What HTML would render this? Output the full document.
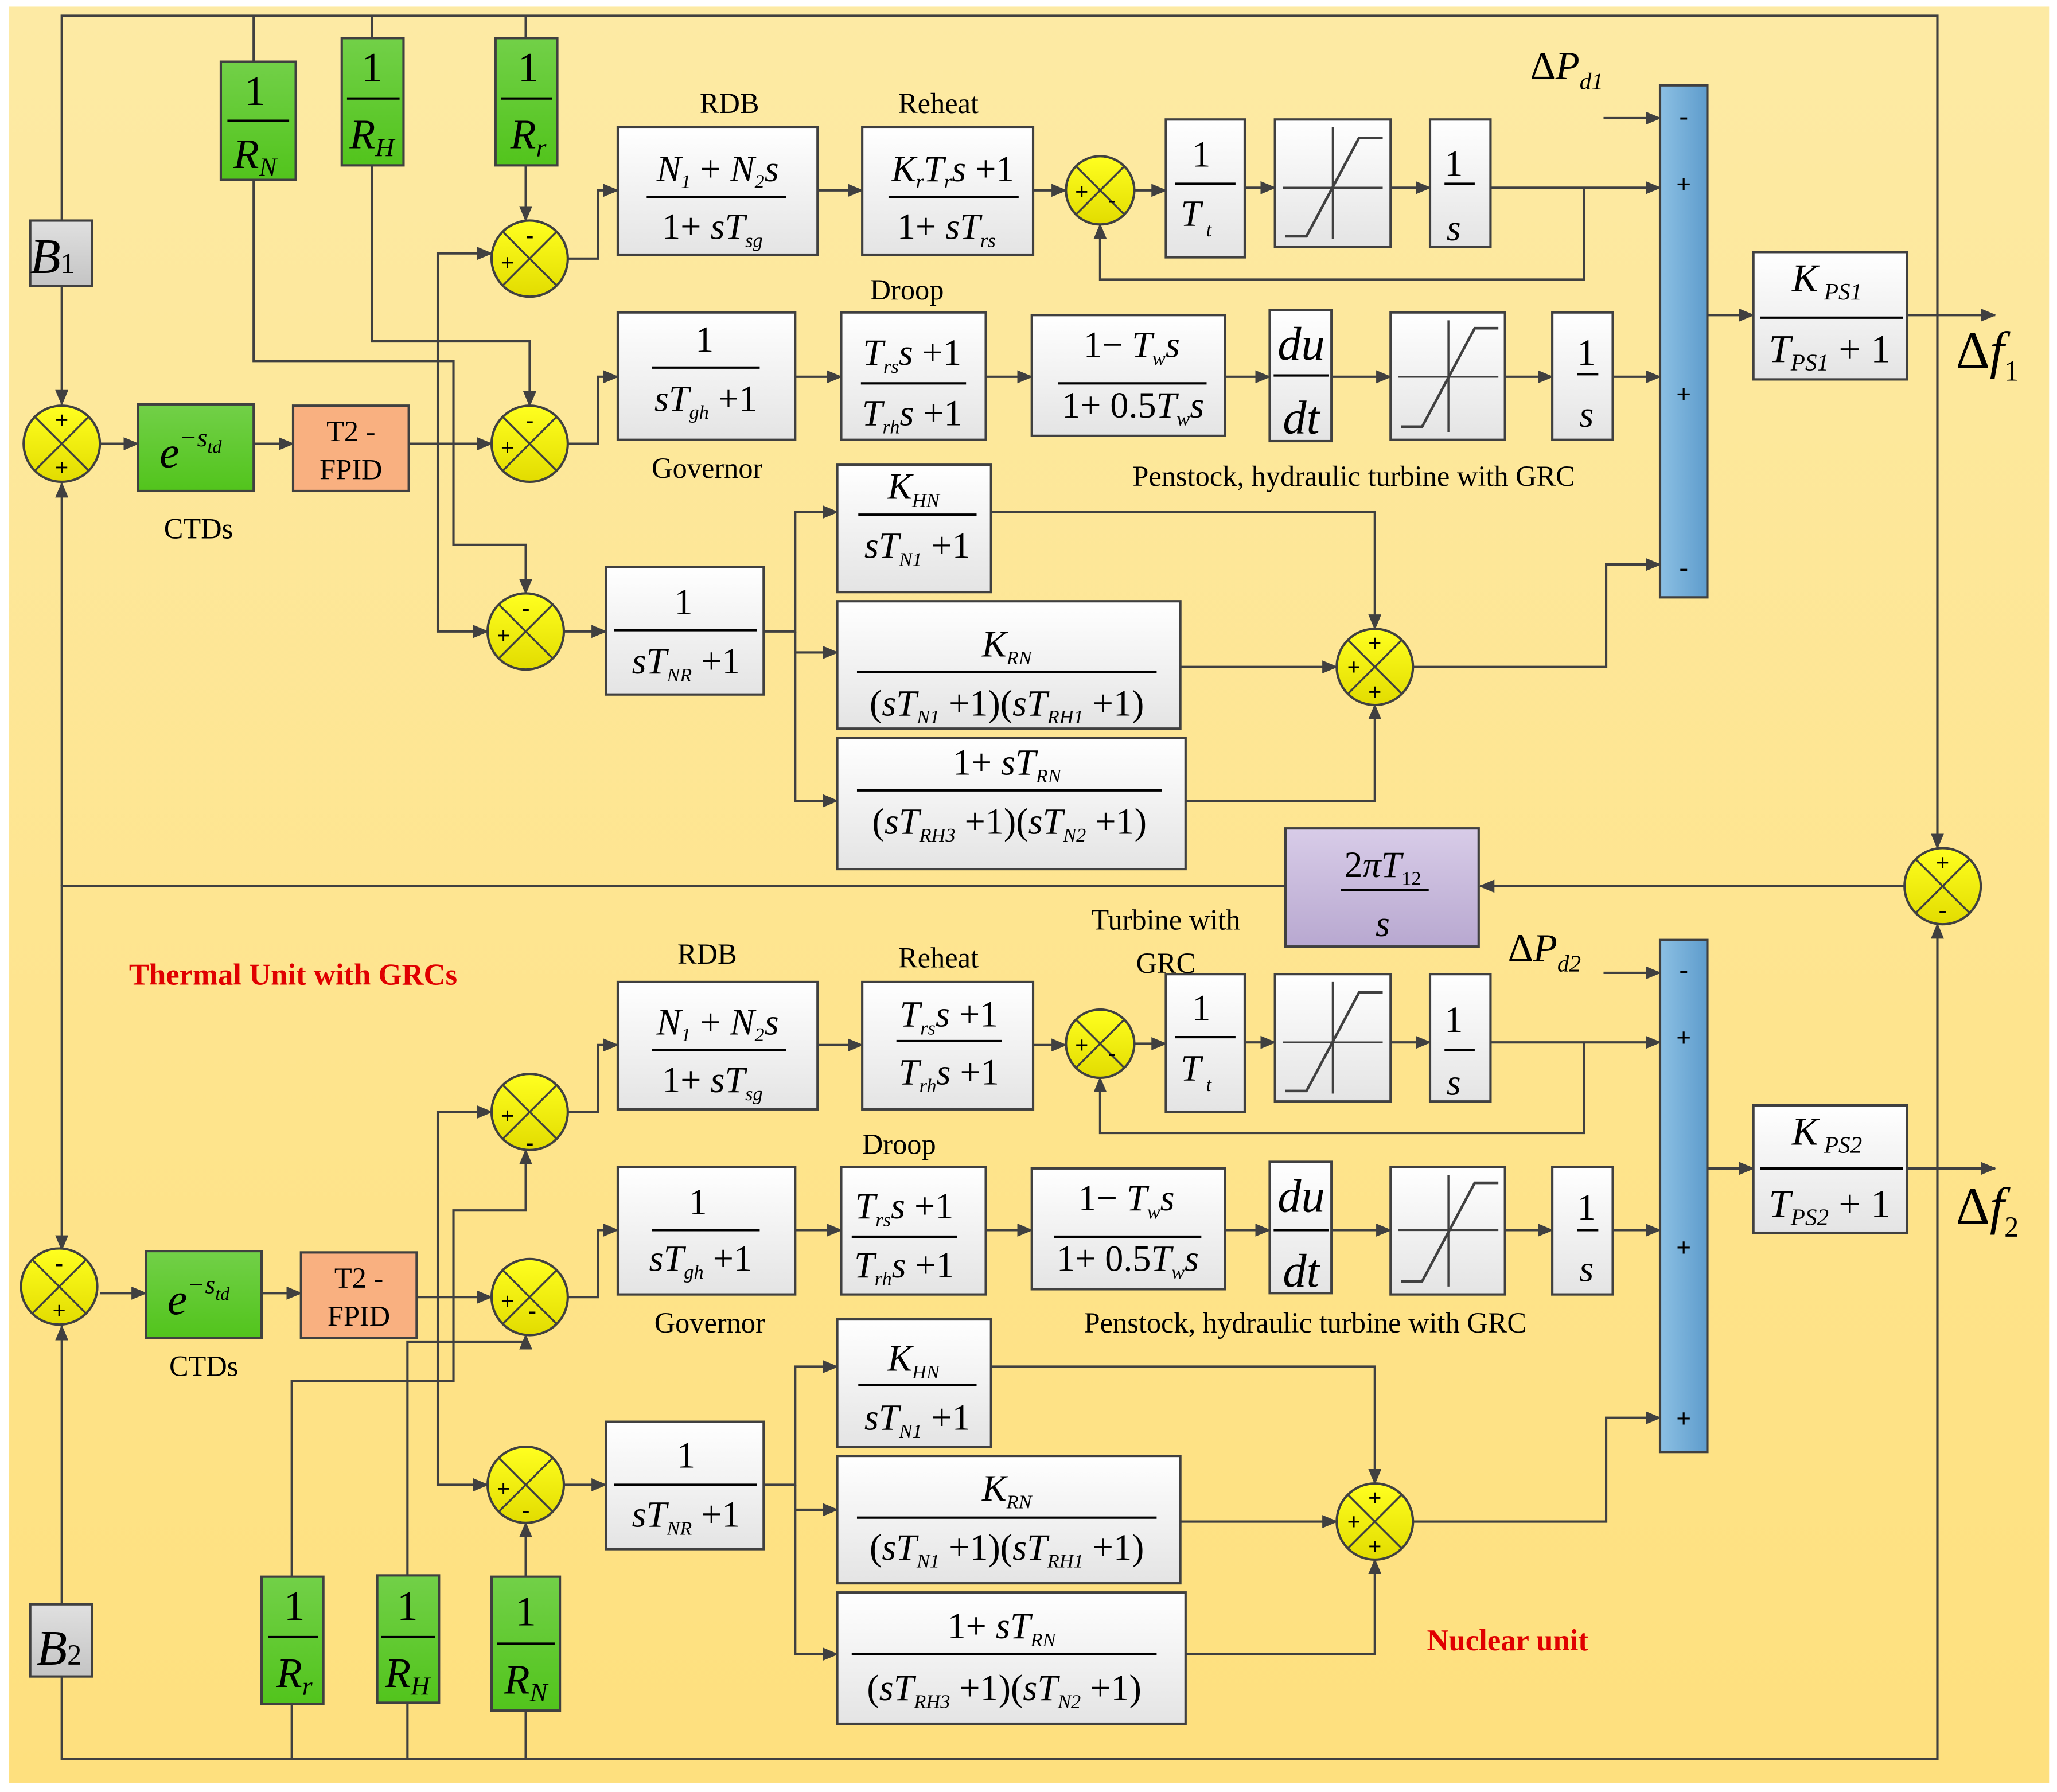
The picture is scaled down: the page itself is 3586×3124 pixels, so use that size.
<!DOCTYPE html>
<html><head><meta charset="utf-8"><style>
html,body{margin:0;padding:0;background:#fff}
svg{display:block}
text{font-family:"Liberation Serif",serif;fill:#000}
.f{font-style:italic;font-size:28px;text-anchor:middle}
.l{font-size:22px;text-anchor:middle}
.sg{font-family:"Liberation Sans",sans-serif;font-size:18px;text-anchor:middle;font-weight:bold}
.red{fill:#e00000;font-weight:bold;font-size:23px;text-anchor:middle}
</style></head><body>
<svg width="3586" height="3124" viewBox="0 0 1565 1365" preserveAspectRatio="none" xmlns="http://www.w3.org/2000/svg">
<defs>
<marker id="a" markerWidth="12" markerHeight="10" refX="11" refY="5" orient="auto" markerUnits="userSpaceOnUse"><path d="M0,0 L12,5 L0,10 z" fill="#404040"/></marker>
<linearGradient id="bg" x1="0" y1="0" x2="0" y2="1"><stop offset="0" stop-color="#fdeaa4"/><stop offset="1" stop-color="#fee07e"/></linearGradient>
<linearGradient id="gw" x1="0" y1="0" x2="0" y2="1"><stop offset="0" stop-color="#ffffff"/><stop offset="1" stop-color="#e4e4e4"/></linearGradient>
<linearGradient id="gg" x1="0" y1="0" x2="0" y2="1"><stop offset="0" stop-color="#72d048"/><stop offset="1" stop-color="#52c41c"/></linearGradient>
<linearGradient id="gb" x1="0" y1="0" x2="0" y2="1"><stop offset="0" stop-color="#e0e0e0"/><stop offset="1" stop-color="#c4c4c4"/></linearGradient>
<linearGradient id="gy" x1="0" y1="0" x2="0" y2="1"><stop offset="0" stop-color="#ffff20"/><stop offset="1" stop-color="#e2dc00"/></linearGradient>
<linearGradient id="gbl" x1="0" y1="0" x2="1" y2="0"><stop offset="0" stop-color="#8cc0e4"/><stop offset="1" stop-color="#5e9ccc"/></linearGradient>
<linearGradient id="gp" x1="0" y1="0" x2="0" y2="1"><stop offset="0" stop-color="#d8cce8"/><stop offset="1" stop-color="#b8a8d0"/></linearGradient>
</defs>
<rect x="7" y="5" width="1552" height="1353" fill="url(#bg)"/>
<g stroke="#404040" stroke-width="1.8" fill="none">
<path d="M47,168 V12 H1474 V646" marker-end="url(#a)"/>
<path d="M47,1277 V1340 H1474 V704" marker-end="url(#a)"/>
<path d="M47,218 V308" marker-end="url(#a)"/>
<path d="M193,12 V47 M283,12 V29 M400,12 V29"/>
<path d="M1449,675 H1126" marker-end="url(#a)"/>
<path d="M978,675 H47 V952" marker-end="url(#a)"/>
<path d="M47,675 V368" marker-end="url(#a)"/>
<path d="M47,1222 V1010" marker-end="url(#a)"/>
<path d="M76,338 H105" marker-end="url(#a)"/>
<path d="M193,338 H223" marker-end="url(#a)"/>
<path d="M311,338 H374" marker-end="url(#a)"/>
<path d="M333,338 V193 H374" marker-end="url(#a)"/>
<path d="M333,338 V481 H371" marker-end="url(#a)"/>
<path d="M193,137 V275 H345 V415 H400 V452" marker-end="url(#a)"/>
<path d="M283,126 V260 H403 V309" marker-end="url(#a)"/>
<path d="M400,126 V168" marker-end="url(#a)"/>
<path d="M432,197 H455 V145 H470" marker-end="url(#a)"/>
<path d="M622,145 H656" marker-end="url(#a)"/>
<path d="M786,145 H811" marker-end="url(#a)"/>
<path d="M863,145 H887" marker-end="url(#a)"/>
<path d="M947,143 H970" marker-end="url(#a)"/>
<path d="M1058,143 H1088" marker-end="url(#a)"/>
<path d="M1134,143 H1263" marker-end="url(#a)"/>
<path d="M1205,143 V213 H837 V171" marker-end="url(#a)"/>
<path d="M1220,90 H1263" marker-end="url(#a)"/>
<path d="M432,338 H455 V287 H470" marker-end="url(#a)"/>
<path d="M605,287 H640" marker-end="url(#a)"/>
<path d="M750,287 H785" marker-end="url(#a)"/>
<path d="M932,287 H966" marker-end="url(#a)"/>
<path d="M1013,287 H1058" marker-end="url(#a)"/>
<path d="M1145,287 H1181" marker-end="url(#a)"/>
<path d="M1227,287 H1263" marker-end="url(#a)"/>
<path d="M429,481 H461" marker-end="url(#a)"/>
<path d="M581,481 H605 V390 H637" marker-end="url(#a)"/>
<path d="M605,481 V497 H637" marker-end="url(#a)"/>
<path d="M605,497 V610 H637" marker-end="url(#a)"/>
<path d="M754,390 H1046 V479" marker-end="url(#a)"/>
<path d="M898,508 H1017" marker-end="url(#a)"/>
<path d="M902,610 H1046 V537" marker-end="url(#a)"/>
<path d="M1075,508 H1222 V430 H1263" marker-end="url(#a)"/>
<path d="M1299,240 H1334" marker-end="url(#a)"/>
<path d="M1451,240 H1518" marker-end="url(#a)"/>
<path d="M76,985 H111" marker-end="url(#a)"/>
<path d="M199,985 H229" marker-end="url(#a)"/>
<path d="M317,988 H374" marker-end="url(#a)"/>
<path d="M333,988 V847 H374" marker-end="url(#a)"/>
<path d="M333,988 V1131 H371" marker-end="url(#a)"/>
<path d="M222,1340 V1298 M310,1340 V1297 M400,1340 V1303"/>
<path d="M222,1201 V1052 H345 V922 H400 V876" marker-end="url(#a)"/>
<path d="M310,1200 V1022 H400 V1017" marker-end="url(#a)"/>
<path d="M400,1201 V1160" marker-end="url(#a)"/>
<path d="M432,847 H455 V796 H470" marker-end="url(#a)"/>
<path d="M622,796 H656" marker-end="url(#a)"/>
<path d="M786,796 H811" marker-end="url(#a)"/>
<path d="M863,795 H887" marker-end="url(#a)"/>
<path d="M947,794 H970" marker-end="url(#a)"/>
<path d="M1058,794 H1088" marker-end="url(#a)"/>
<path d="M1134,794 H1263" marker-end="url(#a)"/>
<path d="M1205,794 V863 H837 V821" marker-end="url(#a)"/>
<path d="M1220,741 H1263" marker-end="url(#a)"/>
<path d="M432,988 H455 V937 H470" marker-end="url(#a)"/>
<path d="M605,937 H640" marker-end="url(#a)"/>
<path d="M750,937 H785" marker-end="url(#a)"/>
<path d="M932,937 H966" marker-end="url(#a)"/>
<path d="M1013,937 H1058" marker-end="url(#a)"/>
<path d="M1145,937 H1181" marker-end="url(#a)"/>
<path d="M1227,937 H1263" marker-end="url(#a)"/>
<path d="M429,1131 H461" marker-end="url(#a)"/>
<path d="M581,1131 H605 V1041 H637" marker-end="url(#a)"/>
<path d="M605,1131 V1150 H637" marker-end="url(#a)"/>
<path d="M605,1150 V1260 H637" marker-end="url(#a)"/>
<path d="M754,1041 H1046 V1130" marker-end="url(#a)"/>
<path d="M898,1159 H1017" marker-end="url(#a)"/>
<path d="M902,1260 H1046 V1188" marker-end="url(#a)"/>
<path d="M1075,1159 H1222 V1080 H1263" marker-end="url(#a)"/>
<path d="M1299,890 H1334" marker-end="url(#a)"/>
<path d="M1451,890 H1518" marker-end="url(#a)"/>
</g>

<g stroke="#404040" stroke-width="1.8">
<rect x="23" y="168" width="47" height="50" fill="url(#gb)"/>
<rect x="23" y="1222" width="47" height="55" fill="url(#gb)"/>
<rect x="168" y="47" width="57" height="90" fill="url(#gg)"/>
<rect x="260" y="29" width="47" height="97" fill="url(#gg)"/>
<rect x="377" y="29" width="47" height="97" fill="url(#gg)"/>
<rect x="199" y="1201" width="47" height="97" fill="url(#gg)"/>
<rect x="287" y="1200" width="47" height="97" fill="url(#gg)"/>
<rect x="374" y="1201" width="52" height="102" fill="url(#gg)"/>
<rect x="105" y="308" width="88" height="66" fill="url(#gg)"/>
<rect x="111" y="953" width="88" height="66" fill="url(#gg)"/>
<rect x="223" y="309" width="88" height="65" fill="#f9b080"/>
<rect x="229" y="954" width="88" height="65" fill="#f9b080"/>
<rect x="1263" y="65" width="36" height="390" fill="url(#gbl)"/>
<rect x="1263" y="716" width="36" height="390" fill="url(#gbl)"/>
<rect x="978" y="631" width="147" height="90" fill="url(#gp)"/>
<g fill="url(#gw)">
<rect x="470" y="97" width="152" height="97"/><rect x="656" y="97" width="130" height="97"/>
<rect x="887" y="91" width="60" height="105"/><rect x="970" y="91" width="88" height="97"/><rect x="1088" y="91" width="46" height="97"/>
<rect x="470" y="238" width="135" height="97"/><rect x="640" y="238" width="110" height="97"/><rect x="785" y="240" width="147" height="92"/>
<rect x="966" y="236" width="47" height="100"/><rect x="1058" y="238" width="87" height="97"/><rect x="1181" y="238" width="46" height="97"/>
<rect x="461" y="432" width="120" height="97"/><rect x="637" y="354" width="117" height="97"/><rect x="637" y="458" width="261" height="97"/><rect x="637" y="562" width="265" height="100"/>
<rect x="1334" y="192" width="117" height="97"/>
<rect x="470" y="748" width="152" height="97"/><rect x="656" y="748" width="130" height="97"/>
<rect x="887" y="742" width="60" height="105"/><rect x="970" y="742" width="88" height="97"/><rect x="1088" y="742" width="46" height="97"/>
<rect x="470" y="889" width="135" height="97"/><rect x="640" y="889" width="110" height="97"/><rect x="785" y="890" width="147" height="92"/>
<rect x="966" y="885" width="47" height="100"/><rect x="1058" y="889" width="87" height="97"/><rect x="1181" y="889" width="46" height="97"/>
<rect x="461" y="1083" width="120" height="97"/><rect x="637" y="1005" width="117" height="97"/><rect x="637" y="1109" width="261" height="97"/><rect x="637" y="1213" width="265" height="100"/>
<rect x="1334" y="842" width="117" height="97"/>
</g>
</g>

<g stroke="#404040" stroke-width="1.5" fill="none">
<path d="M976,143 H1052 M1014,97 V182"/><path d="M978,180 H994 L1034,105 H1052" stroke-width="2"/>
<path d="M1064,287 H1140 M1102,244 V329"/><path d="M1066,325 H1082 L1122,250 H1140" stroke-width="2"/>
<path d="M976,794 H1052 M1014,748 V833"/><path d="M978,831 H994 L1034,756 H1052" stroke-width="2"/>
<path d="M1064,937 H1140 M1102,895 V980"/><path d="M1066,976 H1082 L1122,901 H1140" stroke-width="2"/>
</g>

<g stroke="#404040" stroke-width="1.8" fill="url(#gy)">
<circle cx="47" cy="338" r="29"/><circle cx="403" cy="197" r="29"/><circle cx="403" cy="338" r="29"/><circle cx="400" cy="481" r="29"/>
<circle cx="837" cy="145" r="26"/><circle cx="1046" cy="508" r="29"/><circle cx="1478" cy="675" r="29"/>
<circle cx="45" cy="980" r="29"/><circle cx="403" cy="847" r="29"/><circle cx="403" cy="988" r="29"/><circle cx="400" cy="1131" r="29"/>
<circle cx="837" cy="795" r="26"/><circle cx="1046" cy="1159" r="29"/>
</g>
<g stroke="#404040" stroke-width="1.5">
<path d="M26.5,317.5 L67.5,358.5 M67.5,317.5 L26.5,358.5"/>
<path d="M382.5,176.5 L423.5,217.5 M423.5,176.5 L382.5,217.5"/>
<path d="M382.5,317.5 L423.5,358.5 M423.5,317.5 L382.5,358.5"/>
<path d="M379.5,460.5 L420.5,501.5 M420.5,460.5 L379.5,501.5"/>
<path d="M818.6,126.6 L855.4,163.4 M855.4,126.6 L818.6,163.4"/>
<path d="M1025.5,487.5 L1066.5,528.5 M1066.5,487.5 L1025.5,528.5"/>
<path d="M1457.5,654.5 L1498.5,695.5 M1498.5,654.5 L1457.5,695.5"/>
<path d="M24.5,959.5 L65.5,1000.5 M65.5,959.5 L24.5,1000.5"/>
<path d="M382.5,826.5 L423.5,867.5 M423.5,826.5 L382.5,867.5"/>
<path d="M382.5,967.5 L423.5,1008.5 M423.5,967.5 L382.5,1008.5"/>
<path d="M379.5,1110.5 L420.5,1151.5 M420.5,1110.5 L379.5,1151.5"/>
<path d="M818.6,776.6 L855.4,813.4 M855.4,776.6 L818.6,813.4"/>
<path d="M1025.5,1138.5 L1066.5,1179.5 M1066.5,1138.5 L1025.5,1179.5"/>
</g>
<g class="sg">
<text x="47" y="326">+</text><text x="47" y="362">+</text>
<text x="403" y="185">-</text><text x="386" y="206">+</text>
<text x="403" y="326">-</text><text x="386" y="347">+</text>
<text x="400" y="469">-</text><text x="383" y="490">+</text>
<text x="823" y="152">+</text><text x="846" y="158">-</text>
<text x="1046" y="496">+</text><text x="1030" y="514">+</text><text x="1046" y="533">+</text>
<text x="1478" y="663">+</text><text x="1478" y="699">-</text>
<text x="45" y="968">-</text><text x="45" y="1004">+</text>
<text x="386" y="856">+</text><text x="403" y="876">-</text>
<text x="386" y="997">+</text><text x="405" y="1004">-</text>
<text x="383" y="1140">+</text><text x="400" y="1156">-</text>
<text x="823" y="802">+</text><text x="846" y="808">-</text>
<text x="1046" y="1147">+</text><text x="1030" y="1165">+</text><text x="1046" y="1184">+</text>
</g>
<g class="sg" style="font-size:20px">
<text x="1281" y="95">-</text><text x="1281" y="147">+</text><text x="1281" y="307">+</text><text x="1281" y="439">-</text>
<text x="1281" y="745">-</text><text x="1281" y="797">+</text><text x="1281" y="957">+</text><text x="1281" y="1087">+</text>
</g>

<g stroke="#000" stroke-width="1.8">
<path d="M173,92 H220 M264,75 H304 M381,75 H420 M204,1247 H242 M290,1247 H331 M378,1252 H422"/>
<path d="M492,150 H598 M676,150 H775 M894,140 H940 M1099,140 H1122 M496,280 H578 M655,292 H735 M805,292 H918 M969,286 H1011 M1200,285 H1216 M467,480 H576 M653,392 H743 M652,512 H880 M652,602 H884 M1339,242 H1448 M1020,678 H1087"/>
<path d="M496,800 H598 M682,793 H762 M894,790 H940 M1099,800 H1122 M496,937 H578 M648,942 H728 M802,942 H914 M969,937 H1011 M1200,937 H1216 M467,1131 H576 M653,1055 H743 M652,1156 H880 M648,1260 H880 M1339,890 H1448"/>
</g>

<g class="f">
<text x="40" y="208" style="font-size:38px">B<tspan font-size="22" font-style="normal">1</tspan></text>
<text x="45" y="1268" style="font-size:38px">B<tspan font-size="22" font-style="normal">2</tspan></text>
<text x="194" y="80" font-style="normal" font-size="32">1</text><text x="194" y="128" font-size="32">R<tspan font-size="20" dy="6">N</tspan></text>
<text x="283" y="62" font-style="normal" font-size="32">1</text><text x="283" y="113" font-size="32">R<tspan font-size="20" dy="6">H</tspan></text>
<text x="402" y="62" font-style="normal" font-size="32">1</text><text x="402" y="113" font-size="32">R<tspan font-size="20" dy="6">r</tspan></text>
<text x="224" y="1234" font-style="normal" font-size="32">1</text><text x="224" y="1285" font-size="32">R<tspan font-size="20" dy="6">r</tspan></text>
<text x="310" y="1234" font-style="normal" font-size="32">1</text><text x="310" y="1285" font-size="32">R<tspan font-size="20" dy="6">H</tspan></text>
<text x="400" y="1238" font-style="normal" font-size="32">1</text><text x="400" y="1290" font-size="32">R<tspan font-size="20" dy="6">N</tspan></text>
<text x="145" y="356" font-size="34">e<tspan font-size="20" dy="-16">−s</tspan><tspan font-size="14" dy="5">td</tspan></text>
<text x="151" y="1001" font-size="34">e<tspan font-size="20" dy="-16">−s</tspan><tspan font-size="14" dy="5">td</tspan></text>

<text x="546" y="138">N<tspan font-size="15" dy="5">1</tspan><tspan dy="-5" font-style="normal"> + </tspan>N<tspan font-size="15" dy="5">2</tspan><tspan dy="-5">s</tspan></text>
<text x="542" y="182"><tspan font-style="normal">1+ </tspan>sT<tspan font-size="15" dy="6">sg</tspan></text>
<text x="725" y="138">K<tspan font-size="15" dy="5">r</tspan><tspan dy="-5">T</tspan><tspan font-size="15" dy="5">r</tspan><tspan dy="-5">s</tspan><tspan font-style="normal"> +1</tspan></text>
<text x="720" y="182"><tspan font-style="normal">1+ </tspan>sT<tspan font-size="15" dy="6">rs</tspan></text>
<text x="914" y="127" font-style="normal">1</text><text x="910" y="172">T<tspan font-size="15" dy="8"> t</tspan></text>
<text x="1106" y="134" font-style="normal">1</text><text x="1106" y="183">s</text>
<text x="536" y="268" font-style="normal">1</text><text x="537" y="313">sT<tspan font-size="15" dy="6">gh</tspan><tspan dy="-6" font-style="normal"> +1</tspan></text>
<text x="694" y="278">T<tspan font-size="15" dy="6">rs</tspan><tspan dy="-6">s</tspan><tspan font-style="normal"> +1</tspan></text>
<text x="694" y="324">T<tspan font-size="15" dy="6">rh</tspan><tspan dy="-6">s</tspan><tspan font-style="normal"> +1</tspan></text>
<text x="861" y="272"><tspan font-style="normal">1− </tspan>T<tspan font-size="15" dy="6">w</tspan><tspan dy="-6">s</tspan></text>
<text x="862" y="318"><tspan font-style="normal">1+ 0.5</tspan>T<tspan font-size="15" dy="6">w</tspan><tspan dy="-6">s</tspan></text>
<text x="990" y="274" font-size="36">du</text><text x="990" y="330" font-size="36">dt</text>
<text x="1207" y="278" font-style="normal">1</text><text x="1207" y="325">s</text>
<text x="520" y="468" font-style="normal">1</text><text x="522" y="513">sT<tspan font-size="15" dy="6">NR</tspan><tspan dy="-6" font-style="normal"> +1</tspan></text>
<text x="695" y="380">K<tspan font-size="15" dy="6">HN</tspan></text><text x="698" y="425">sT<tspan font-size="15" dy="6">N1</tspan><tspan dy="-6" font-style="normal"> +1</tspan></text>
<text x="766" y="500">K<tspan font-size="15" dy="6">RN</tspan></text>
<text x="766" y="545"><tspan font-style="normal">(</tspan>sT<tspan font-size="15" dy="6">N1</tspan><tspan dy="-6" font-style="normal"> +1)(</tspan>sT<tspan font-size="15" dy="6">RH1</tspan><tspan dy="-6" font-style="normal"> +1)</tspan></text>
<text x="766" y="590"><tspan font-style="normal">1+ </tspan>sT<tspan font-size="15" dy="6">RN</tspan></text>
<text x="768" y="635"><tspan font-style="normal">(</tspan>sT<tspan font-size="15" dy="6">RH3</tspan><tspan dy="-6" font-style="normal"> +1)(</tspan>sT<tspan font-size="15" dy="6">N2</tspan><tspan dy="-6" font-style="normal"> +1)</tspan></text>
<text x="1390" y="222" font-size="30">K<tspan font-size="18" dy="6"> PS1</tspan></text>
<text x="1392" y="276" font-size="30">T<tspan font-size="18" dy="6">PS1</tspan><tspan dy="-6" font-style="normal"> + 1</tspan></text>
<text x="1052" y="668"><tspan font-style="normal">2</tspan>πT<tspan font-size="15" dy="6" font-style="normal">12</tspan></text><text x="1052" y="713">s</text>

<text x="546" y="788">N<tspan font-size="15" dy="5">1</tspan><tspan dy="-5" font-style="normal"> + </tspan>N<tspan font-size="15" dy="5">2</tspan><tspan dy="-5">s</tspan></text>
<text x="542" y="832"><tspan font-style="normal">1+ </tspan>sT<tspan font-size="15" dy="6">sg</tspan></text>
<text x="722" y="782">T<tspan font-size="15" dy="6">rs</tspan><tspan dy="-6">s</tspan><tspan font-style="normal"> +1</tspan></text>
<text x="722" y="826">T<tspan font-size="15" dy="6">rh</tspan><tspan dy="-6">s</tspan><tspan font-style="normal"> +1</tspan></text>
<text x="914" y="777" font-style="normal">1</text><text x="910" y="823">T<tspan font-size="15" dy="8"> t</tspan></text>
<text x="1106" y="786" font-style="normal">1</text><text x="1106" y="834">s</text>
<text x="531" y="925" font-style="normal">1</text><text x="533" y="968">sT<tspan font-size="15" dy="6">gh</tspan><tspan dy="-6" font-style="normal"> +1</tspan></text>
<text x="688" y="928">T<tspan font-size="15" dy="6">rs</tspan><tspan dy="-6">s</tspan><tspan font-style="normal"> +1</tspan></text>
<text x="688" y="973">T<tspan font-size="15" dy="6">rh</tspan><tspan dy="-6">s</tspan><tspan font-style="normal"> +1</tspan></text>
<text x="857" y="922"><tspan font-style="normal">1− </tspan>T<tspan font-size="15" dy="6">w</tspan><tspan dy="-6">s</tspan></text>
<text x="858" y="968"><tspan font-style="normal">1+ 0.5</tspan>T<tspan font-size="15" dy="6">w</tspan><tspan dy="-6">s</tspan></text>
<text x="990" y="923" font-size="36">du</text><text x="990" y="980" font-size="36">dt</text>
<text x="1207" y="929" font-style="normal">1</text><text x="1207" y="976">s</text>
<text x="522" y="1118" font-style="normal">1</text><text x="522" y="1163">sT<tspan font-size="15" dy="6">NR</tspan><tspan dy="-6" font-style="normal"> +1</tspan></text>
<text x="695" y="1044">K<tspan font-size="15" dy="6">HN</tspan></text><text x="698" y="1089">sT<tspan font-size="15" dy="6">N1</tspan><tspan dy="-6" font-style="normal"> +1</tspan></text>
<text x="766" y="1143">K<tspan font-size="15" dy="6">RN</tspan></text>
<text x="766" y="1188"><tspan font-style="normal">(</tspan>sT<tspan font-size="15" dy="6">N1</tspan><tspan dy="-6" font-style="normal"> +1)(</tspan>sT<tspan font-size="15" dy="6">RH1</tspan><tspan dy="-6" font-style="normal"> +1)</tspan></text>
<text x="762" y="1248"><tspan font-style="normal">1+ </tspan>sT<tspan font-size="15" dy="6">RN</tspan></text>
<text x="764" y="1295"><tspan font-style="normal">(</tspan>sT<tspan font-size="15" dy="6">RH3</tspan><tspan dy="-6" font-style="normal"> +1)(</tspan>sT<tspan font-size="15" dy="6">N2</tspan><tspan dy="-6" font-style="normal"> +1)</tspan></text>
<text x="1390" y="872" font-size="30">K<tspan font-size="18" dy="6"> PS2</tspan></text>
<text x="1392" y="927" font-size="30">T<tspan font-size="18" dy="6">PS2</tspan><tspan dy="-6" font-style="normal"> + 1</tspan></text>

<text x="1192" y="60" font-size="30"><tspan font-style="normal">Δ</tspan>P<tspan font-size="18" dy="8">d1</tspan></text>
<text x="1175" y="732" font-size="30"><tspan font-style="normal">Δ</tspan>P<tspan font-size="18" dy="8">d2</tspan></text>
<text x="1512" y="280" font-size="40"><tspan font-style="normal">Δ</tspan>f<tspan font-size="22" dy="10" font-style="normal">1</tspan></text>
<text x="1512" y="932" font-size="40"><tspan font-style="normal">Δ</tspan>f<tspan font-size="22" dy="10" font-style="normal">2</tspan></text>
</g>
<g class="l">
<text x="267" y="336">T2 -</text><text x="267" y="365">FPID</text>
<text x="273" y="981">T2 -</text><text x="273" y="1010">FPID</text>
<text x="151" y="410">CTDs</text><text x="155" y="1048">CTDs</text>
<text x="555" y="86">RDB</text><text x="714" y="86">Reheat</text>
<text x="690" y="228">Droop</text><text x="538" y="364">Governor</text>
<text x="1030" y="370">Penstock, hydraulic turbine with GRC</text>
<text x="538" y="734">RDB</text><text x="714" y="737">Reheat</text>
<text x="887" y="708">Turbine with</text><text x="887" y="741">GRC</text>
<text x="684" y="879">Droop</text><text x="540" y="1015">Governor</text>
<text x="993" y="1015">Penstock, hydraulic turbine with GRC</text>
</g>
<text class="red" x="223" y="750">Thermal Unit with GRCs</text>
<text class="red" x="1147" y="1257">Nuclear unit</text>
</svg>
</body></html>
